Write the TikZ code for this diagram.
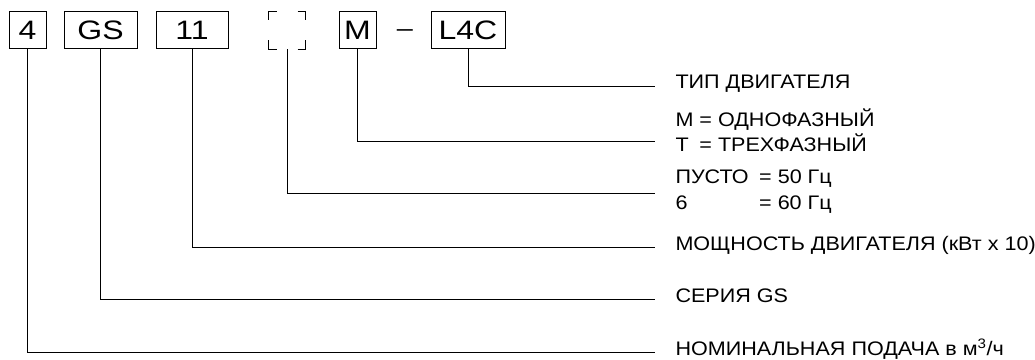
\documentclass[tikz,border=0pt]{standalone}
\usepackage{fontspec}
\setmainfont[FakeStretch=1.1]{Liberation Sans}
\newfontfamily\boxfont[FakeStretch=1.2]{Liberation Sans}
\tikzset{
  bx/.style={draw, inner sep=0pt, minimum height=27.75pt, minimum width=#1*0.75pt,
    font=\boxfont\fontsize{20pt}{22pt}\selectfont},
  lbl/.style={anchor=west, inner sep=0pt, align=left,
    font=\fontsize{14.7pt}{19pt}\selectfont},
}

\begin{document}
\begin{tikzpicture}[x=0.75pt,y=-0.75pt,line width=0.75pt]
\useasboundingbox (0,0) rectangle (1035,360);
% code boxes
\node[bx=37] (b4) at (27.5,30.5) {4};
\node[bx=73] (bGS) at (100.5,30.5) {GS};
\node[bx=72] (b11) at (192,30.5) {11};
\node[bx=36,draw=none] (bD) at (287,30.5) {};
\node[bx=37] (bM) at (357.5,30.5) {M};
\node[font=\boxfont\fontsize{18pt}{20pt}\selectfont,inner sep=0pt] (dash) at (405,33) {–};
\node[bx=74] (bL) at (468,30.5) {L4C};
% corners of the empty box
\foreach \a/\sx/\sy in {north west/1/-1,north east/-1/-1,south west/1/1,south east/-1/1}
  \draw ([xshift=\sx*6pt]bD.\a) -- (bD.\a) -- ([yshift=\sy*6.75pt]bD.\a);
% leader lines
\foreach \n/\y in {L/87,M/141,D/193,11/247,GS/299,4/352}
  \coordinate (e\n) at (655,\y);
\foreach \n in {L,M,D,11,GS,4}
  \draw (b\n.south) |- (e\n);
% labels
\node[lbl] (tL) at (675,84) {ТИП ДВИГАТЕЛЯ};
\node[lbl] (tM) at (675,134) {\begin{tabular}{@{}l@{\ }l@{}}M & = ОДНОФАЗНЫЙ\\T & = ТРЕХФАЗНЫЙ\end{tabular}};
\node[lbl] (tD) at (675,191.5) {\begin{tabular}{@{}l@{\hspace{8pt}}l@{}}ПУСТО & = 50 Гц\\6 & = 60 Гц\end{tabular}};
\node[lbl] (t11) at (675,245.5) {МОЩНОСТЬ ДВИГАТЕЛЯ (кВт x 10)};
\node[lbl] (tGS) at (675,295.5) {СЕРИЯ GS};
\node[lbl] (t4) at (675,349.5) {НОМИНАЛЬНАЯ ПОДАЧА в м\textsuperscript{3}/ч};
\end{tikzpicture}
\end{document}
